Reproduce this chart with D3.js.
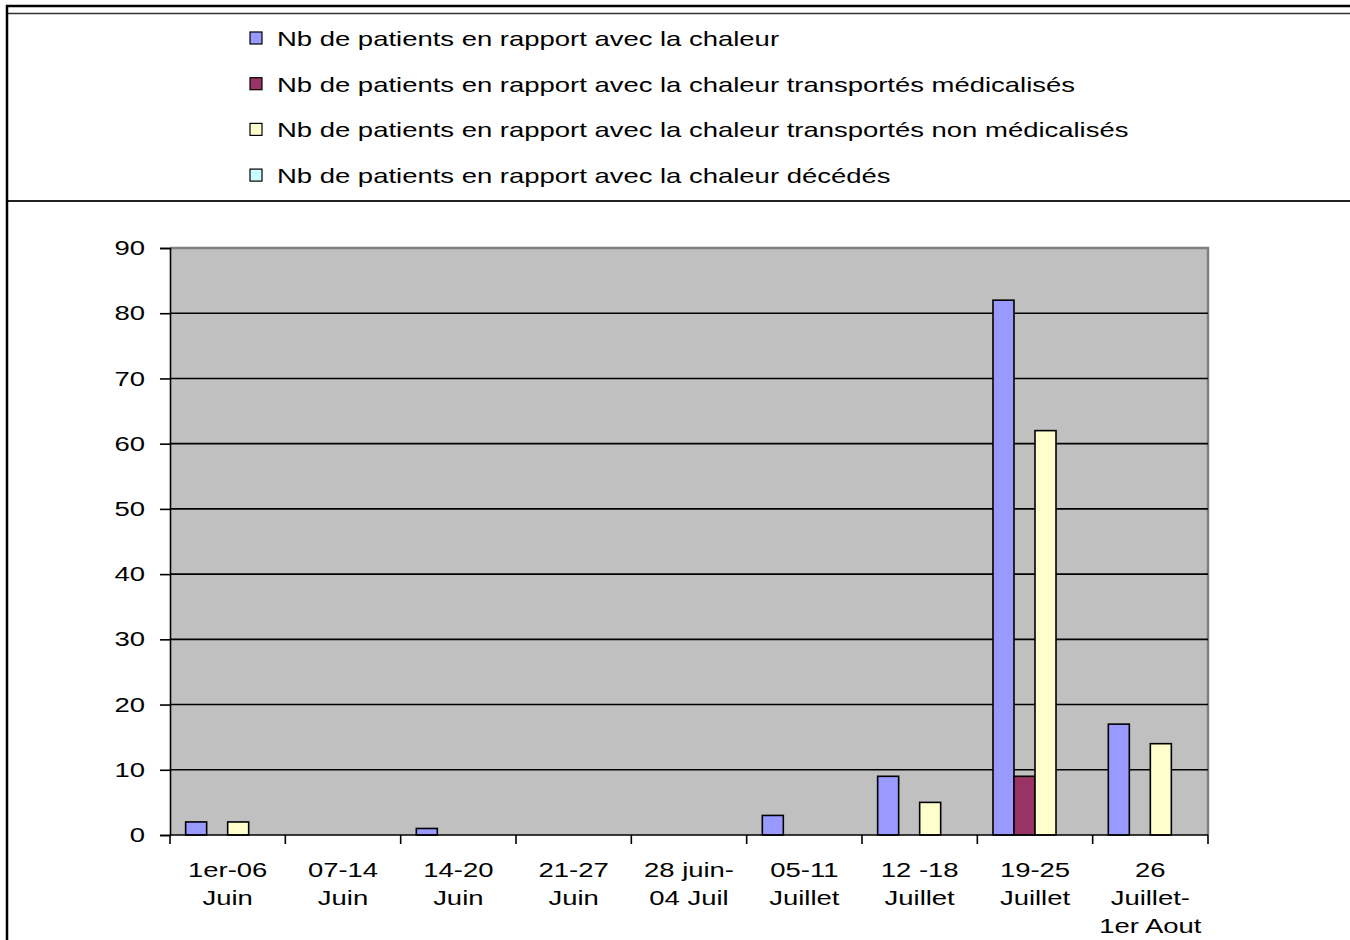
<!DOCTYPE html>
<html>
<head>
<meta charset="utf-8">
<script src="https://cdn.jsdelivr.net/npm/d3@7"></script>
<style>
  body { margin: 0; background: #fff; }
  text { font-family: "Liberation Sans", Arial, sans-serif; fill: #000; }
</style>
</head>
<body>
<svg id="chart" width="1350" height="940"></svg>
<script>
const categories = [
    ["1er-06", "Juin"], ["07-14", "Juin"], ["14-20", "Juin"], ["21-27", "Juin"],
    ["28 juin-", "04 Juil"], ["05-11", "Juillet"], ["12 -18", "Juillet"],
    ["19-25", "Juillet"], ["26", "Juillet-", "1er Aout"]
];
const seriesNames = [
    "Nb de patients en rapport avec la chaleur",
    "Nb de patients en rapport avec la chaleur transportés médicalisés",
    "Nb de patients en rapport avec la chaleur transportés non médicalisés",
    "Nb de patients en rapport avec la chaleur décédés"
];
const patients = [2, 0, 1, 0, 0, 3, 9, 82, 17];
const medicalises = [0, 0, 0, 0, 0, 0, 0, 9, 0];
const nonMedicalises = [2, 0, 0, 0, 0, 0, 5, 62, 14];
const decedes = [0, 0, 0, 0, 0, 0, 0, 0, 0];
const yTicks = [0, 10, 20, 30, 40, 50, 60, 70, 80, 90];
const colors = ["#9999ff", "#993366", "#ffffcc", "#ccffff"];

const series = [patients, medicalises, nonMedicalises, decedes];
const chart = d3.select("#chart");

const plot = { left: 170, top: 248, right: 1208, bottom: 835 };
const fontSize = "20.5px";
const stretch = 1.34; // the original text is drawn wide

// frame lines round the legend
const frame = chart.append("g");
frame.append("line").attr("x1", 6).attr("x2", 1350).attr("y1", 6).attr("y2", 6)
    .attr("stroke", "#000").attr("stroke-width", 2.5);
frame.append("line").attr("x1", 7).attr("x2", 1350).attr("y1", 13.5).attr("y2", 13.5)
    .attr("stroke", "#333").attr("stroke-width", 1.5);
frame.append("line").attr("x1", 7).attr("x2", 1350).attr("y1", 201).attr("y2", 201)
    .attr("stroke", "#222").attr("stroke-width", 2);
frame.append("line").attr("x1", 7).attr("x2", 7).attr("y1", 5).attr("y2", 940)
    .attr("stroke", "#000").attr("stroke-width", 2.5);

// legend
const legend = chart.append("g").selectAll("g")
    .data(seriesNames)
    .enter()
    .append("g")
    .attr("transform", (d, i) => "translate(250," + (38 + i * 45.7) + ")");
legend.append("rect")
    .attr("x", 0).attr("y", -6).attr("width", 12).attr("height", 12)
    .attr("fill", (d, i) => colors[i])
    .attr("stroke", "#000").attr("stroke-width", 1.2);
legend.append("text")
    .text(d => d)
    .attr("transform", "translate(27,8) scale(" + stretch + ",1)")
    .attr("font-size", fontSize);

const x0 = d3.scaleBand()
    .domain(d3.range(categories.length))
    .range([plot.left, plot.right])
    .paddingInner(0).paddingOuter(0);
const x1 = d3.scaleBand()
    .domain(d3.range(series.length))
    .range([0, x0.bandwidth()])
    .paddingOuter(0.745).paddingInner(0);
const y = d3.scaleLinear().domain([0, 90]).range([plot.bottom, plot.top]);

// plot background
chart.append("rect")
    .attr("x", plot.left).attr("y", plot.top)
    .attr("width", plot.right - plot.left).attr("height", plot.bottom - plot.top)
    .attr("fill", "#c0c0c0");
chart.append("path")
    .attr("d", "M" + plot.left + "," + plot.top + "H" + plot.right + "V" + plot.bottom)
    .attr("fill", "none").attr("stroke", "#808080").attr("stroke-width", 2.5);

// gridlines
chart.append("g").selectAll("line")
    .data(yTicks.slice(1, -1))
    .enter()
    .append("line")
    .attr("x1", plot.left).attr("x2", plot.right)
    .attr("y1", d => y(d)).attr("y2", d => y(d))
    .attr("stroke", "#000").attr("stroke-width", 1.6);

// bars
const groups = chart.append("g").selectAll("g")
    .data(categories.map((c, i) => i))
    .enter()
    .append("g")
    .attr("transform", i => "translate(" + x0(i) + ",0)");
groups.selectAll("rect")
    .data(i => series.map((s, k) => ({ k: k, v: s[i] })).filter(d => d.v > 0))
    .enter()
    .append("rect")
    .attr("x", d => x1(d.k))
    .attr("y", d => y(d.v))
    .attr("width", x1.bandwidth())
    .attr("height", d => y(0) - y(d.v))
    .attr("fill", d => colors[d.k])
    .attr("stroke", "#000").attr("stroke-width", 1.6);

// y axis
const yAxis = chart.append("g")
    .attr("transform", "translate(" + plot.left + ",0)")
    .call(d3.axisLeft(y).tickValues(yTicks).tickSize(10).tickPadding(15).tickFormat(d3.format("d")));
yAxis.select(".domain").attr("stroke", "#000").attr("stroke-width", 1.6);
yAxis.selectAll(".tick line").attr("stroke", "#000").attr("stroke-width", 1.6);
yAxis.selectAll(".tick text")
    .attr("font-size", fontSize)
    .attr("font-family", "Liberation Sans, Arial, sans-serif").attr("fill", "#000")
    .attr("x", -25 / stretch)
    .attr("transform", "scale(" + stretch + ",1)");

// x axis
const xTickPos = d3.range(categories.length + 1).map(i => plot.left + i * x0.step());
const xAxis = chart.append("g");
xAxis.append("line")
    .attr("x1", plot.left).attr("x2", plot.right)
    .attr("y1", plot.bottom).attr("y2", plot.bottom)
    .attr("stroke", "#000").attr("stroke-width", 1.6);
xAxis.selectAll(".xt")
    .data(xTickPos)
    .enter()
    .append("line")
    .attr("x1", d => d).attr("x2", d => d)
    .attr("y1", plot.bottom).attr("y2", plot.bottom + 9)
    .attr("stroke", "#000").attr("stroke-width", 1.6);
const labels = xAxis.selectAll(".xl")
    .data(categories)
    .enter()
    .append("text")
    .attr("text-anchor", "middle")
    .attr("font-size", fontSize)
    .attr("transform", "scale(" + stretch + ",1)")
    .attr("x", (d, i) => (x0(i) + x0.bandwidth() / 2) / stretch)
    .attr("y", 877);
labels.selectAll("tspan")
    .data(d => d)
    .enter()
    .append("tspan")
    .attr("x", function () { return d3.select(this.parentNode).attr("x"); })
    .attr("dy", (d, i) => i === 0 ? 0 : 28)
    .text(d => d);
</script>
</body>
</html>
